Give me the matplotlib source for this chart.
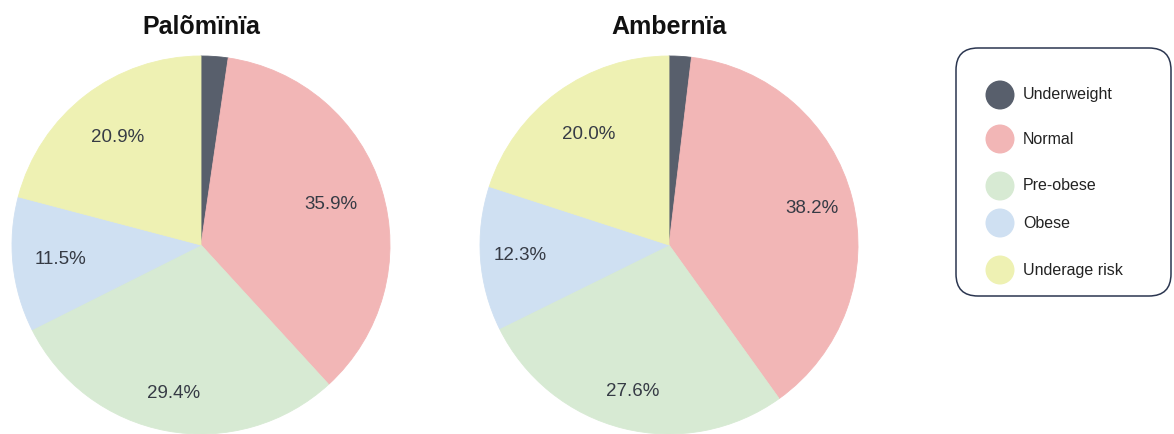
import numpy as np
import matplotlib
matplotlib.use("Agg")
import matplotlib.pyplot as plt
from matplotlib.patches import FancyBboxPatch, Circle

plt.rcParams['font.family'] = ['Liberation Sans', 'DejaVu Sans']

# BMI categories and shares (%) per country
categories = ["Underweight", "Normal", "Pre-obese", "Obese", "Underage risk"]
palominia = [2.3, 35.9, 29.4, 11.5, 20.9]
ambernia = [1.9, 38.2, 27.6, 12.3, 20.0]
titles = ["Palõmïnïa", "Ambernïa"]

colors = ["#585f6c", "#f2b6b6", "#d7ead3", "#cfe0f2", "#eef1b3"]

W, H = 1174, 434
fig = plt.figure(figsize=(W / 100, H / 100), dpi=100)

# pie centres / radius in pixels, label radius per slice
centers = [(201, 245), (669, 245)]
R = 189
label_r = [[0, 0.72, 0.80, 0.75, 0.72], [0, 0.78, 0.80, 0.79, 0.72]]


def draw_pie(values, title, cx, cy, lr):
    ax = fig.add_axes([(cx - R) / W, (H - cy - R) / H, 2 * R / W, 2 * R / H])
    wedges, _ = ax.pie(values, colors=colors, startangle=90, counterclock=False,
                       radius=1, wedgeprops=dict(linewidth=0.6))
    for w, c in zip(wedges, colors):
        w.set_edgecolor(c)
    # percentage labels, skip the tiny slice
    for w, v, r in zip(wedges, values, lr):
        if v < 5:
            continue
        ang = np.deg2rad((w.theta1 + w.theta2) / 2)
        ax.text(r * np.cos(ang), r * np.sin(ang), "%.1f%%" % v,
                ha="center", va="center", fontsize=13.5, color="#363b45")
    ax.set_xlim(-1, 1)
    ax.set_ylim(-1, 1)
    ax.set_aspect("equal")
    ax.axis("off")
    fig.text(cx / W, 1 - 27 / H, title, ha="center", va="center",
             fontsize=18, fontweight="bold", color="#111111")


draw_pie(palominia, titles[0], centers[0][0], centers[0][1], label_r[0])
draw_pie(ambernia, titles[1], centers[1][0], centers[1][1], label_r[1])

# legend drawn on a pixel-space overlay
lax = fig.add_axes([0, 0, 1, 1])
lax.set_xlim(0, W)
lax.set_ylim(H, 0)
lax.axis("off")
box = FancyBboxPatch((956, 48), 215, 248, boxstyle="round,pad=0,rounding_size=22",
                     facecolor="white", edgecolor="#2b3650", linewidth=1.1)
lax.add_patch(box)
item_y = [95, 139, 186, 223, 270]
for name, c, y in zip(categories, colors, item_y):
    lax.add_patch(Circle((1000, y), 14.5, facecolor=c, edgecolor="none"))
    lax.text(1023, y, name, ha="left", va="center", fontsize=11.5, color="#222222")

fig.savefig("out.png", dpi=100)
